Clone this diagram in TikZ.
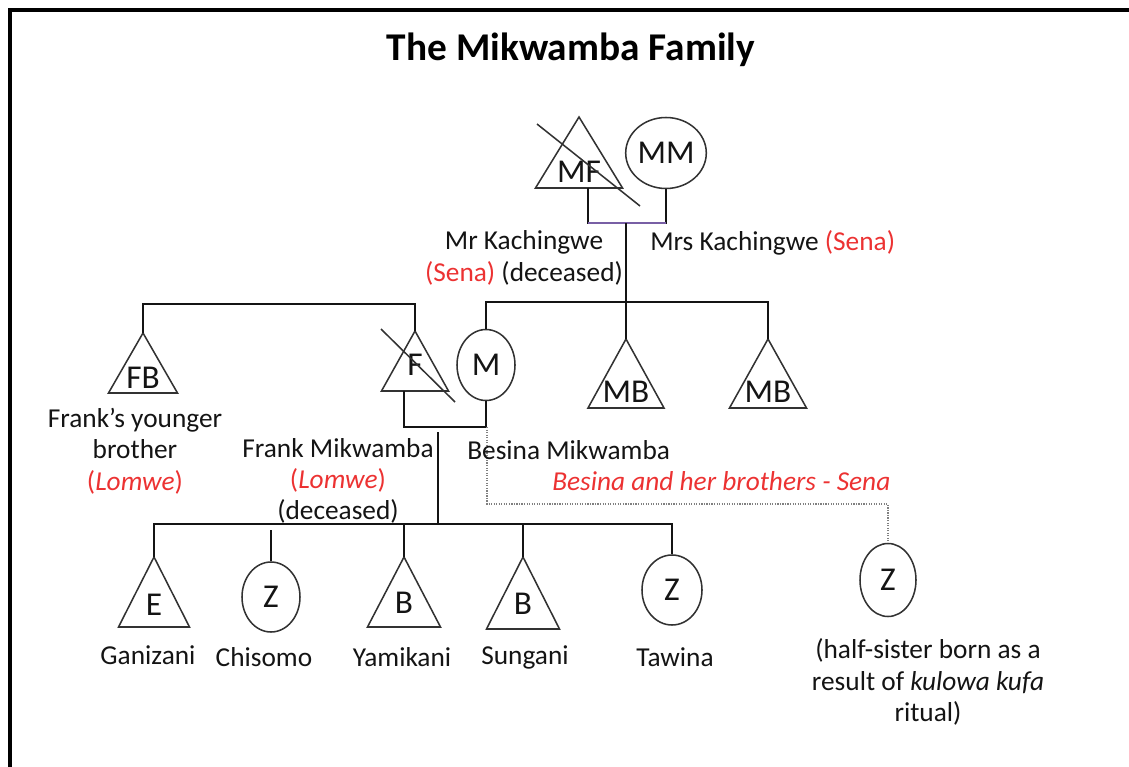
\documentclass[tikz,border=0pt]{standalone}
\usepackage{fontspec}
\setmainfont{Carlito}
\usetikzlibrary{shapes.geometric,calc}
\definecolor{sena}{RGB}{236,50,50}
\definecolor{ink}{RGB}{20,20,20}
\definecolor{shp}{RGB}{50,50,50}
\definecolor{cplcol}{RGB}{120,95,165}
\newcommand\trishape[7]{% name, apex x, apex y, half width, height, label, label dy
  \coordinate (#1-apex) at (#2,#3);
  \draw[shapeline] (#1-apex) -- ++(-#4,#5) -- ++(2*#4,0) -- cycle;
  \node[symlabel] (#1) at ($(#1-apex)+(0,#7)$) {#6};
}
\begin{document}
\begin{tikzpicture}[x=0.75pt,y=-0.75pt,
  shapeline/.style={draw=shp,line width=1.15pt,line join=miter},
  symlabel/.style={inner sep=0pt,text=ink,font=\fontsize{25}{28}\selectfont},
  person/.style={ellipse,draw=shp,line width=1.15pt,inner sep=0pt,text=ink,font=\fontsize{25}{28}\selectfont},
  conn/.style={draw=ink,line width=1.15pt},
  cplline/.style={draw=cplcol,line width=1.15pt},
  dotline/.style={draw=gray,line width=0.9pt,densely dotted},
  lab/.style={inner sep=0pt,text=ink,align=center,font=\fontsize{20.5}{23.5}\selectfont},
  ]
\useasboundingbox (0,0) rectangle (1129,767);
% frame
\draw[line width=3pt] (10,767) -- (10,10) -- (1129,10);
% title
\node[inner sep=0pt,font=\fontsize{29.5}{32}\selectfont\bfseries] (title) at (571,50) {The Mikwamba Family};

% grandparents
\trishape{MF}{579}{117}{43.5}{71}{MF}{55}
\draw[shapeline] (537,124) -- (640,206);
\node[person,minimum width=58*0.75pt,minimum height=71*0.75pt] (MM) at (666,153) {MM};

% parents generation
\trishape{FB}{143}{333}{34.5}{60}{FB}{45}
\trishape{F}{415}{331}{33.5}{60}{F}{34}
\draw[shapeline] (381,329) -- (455,402);
\node[person,minimum width=58*0.75pt,minimum height=71*0.75pt] (M) at (486,365) {M};
\trishape{MBa}{626}{339}{38}{69}{MB}{53}
\trishape{MBb}{768}{339}{38.5}{69}{MB}{53}

% children
\trishape{E}{154}{557}{35.5}{70}{E}{48}
\node[person,minimum width=58*0.75pt,minimum height=70*0.75pt] (Za) at (271,597) {Z};
\trishape{Ba}{404}{557}{36.5}{70}{B}{46}
\trishape{Bb}{523}{557}{36.5}{72}{B}{47}
\node[person,minimum width=60*0.75pt,minimum height=70*0.75pt] (Zb) at (672,590) {Z};
\node[person,minimum width=56*0.75pt,minimum height=73*0.75pt] (Zc) at (888,580) {Z};

% connectors: grandparents
\coordinate (MFfoot) at (588,188);
\coordinate (kcpl) at (626,223);
\coordinate (ksib) at (626,302);
\draw[conn] (MFfoot) |- (kcpl) -| (MM.south);
\draw[cplline] (MFfoot |- kcpl) -- (MM.south |- kcpl);
\draw[conn] (kcpl) -- (ksib);
\draw[conn] (M.north) |- (ksib) -| (MBb-apex);
\draw[conn] (ksib) -- (MBa-apex);
% Frank's siblings
\coordinate (fsib) at (280,304);
\draw[conn] (FB-apex) |- (fsib) -| (F-apex);
% Frank + Besina
\coordinate (Ffoot) at (404,391);
\coordinate (FMcpl) at (440,427);
\draw[conn] (Ffoot) |- (FMcpl) -| (M.south);
% children
\coordinate (chtop) at (438,432);
\coordinate (chbar) at (438,524);
\draw[conn] (chtop) -- (chbar);
\draw[conn] (E-apex) |- (chbar) -| (Zb.north);
\draw[conn] (Ba-apex) -- (Ba-apex |- chbar);
\draw[conn] (Bb-apex) -- (Bb-apex |- chbar);
\coordinate (chZa) at (271,530);
\draw[conn] (chZa) -- (Za.north);
% kulowa kufa line
\coordinate (dotA) at (487,427);
\coordinate (dotB) at (700,504);
\draw[dotline] (dotA) |- (dotB) -| (Zc.north);

% labels
\node[lab] (lkach) at (524,258) {Mr Kachingwe\\\textcolor{sena}{(Sena)} (deceased)};
\node[lab,anchor=west] (lmrs) at (650,243) {Mrs Kachingwe \textcolor{sena}{(Sena)}};
\node[lab] (lfb) at (135,451) {Frank’s younger\\brother\\\textcolor{sena}{(\textit{Lomwe})}};
\node[lab] (lfrank) at (338,481) {Frank Mikwamba\\\textcolor{sena}{(\textit{Lomwe})}\\(deceased)};
\node[lab,anchor=west] (lbesina) at (467,450) {Besina Mikwamba};
\node[lab,anchor=west,text=sena] (lsena) at (552,481) {\textit{Besina and her brothers - Sena}};
\node[lab] (lgan) at (148,655) {Ganizani};
\node[lab] (lchi) at (264,657) {Chisomo};
\node[lab] (lyam) at (402,657) {Yamikani};
\node[lab] (lsun) at (525,657) {Sungani};
\node[lab] (ltaw) at (675,657) {Tawina};
\node[lab] (lhalf) at (928,682) {(half-sister born as a\\result of \textit{kulowa kufa}\\ritual)};
\end{tikzpicture}
\end{document}
